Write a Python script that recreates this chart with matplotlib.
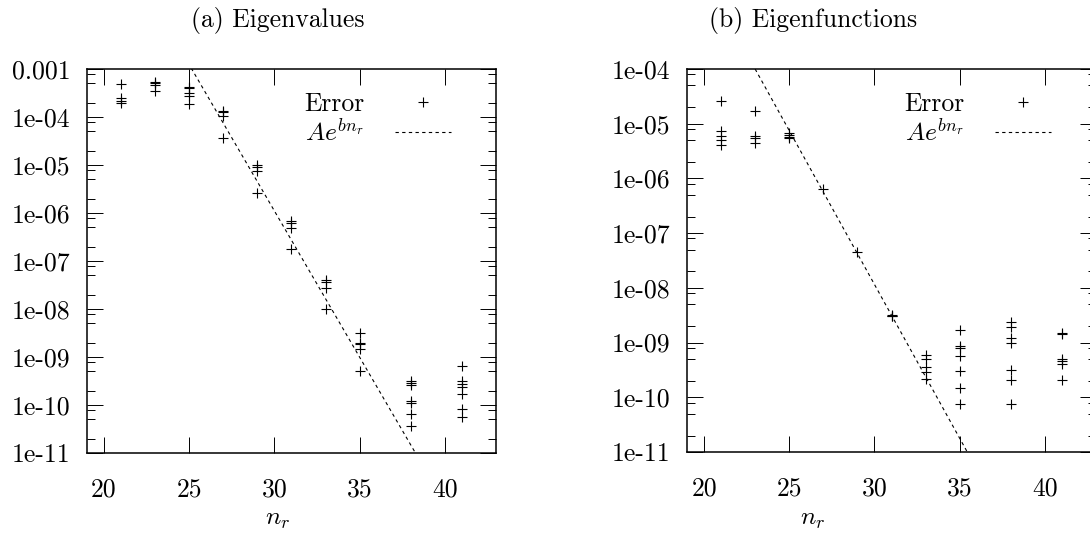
import numpy as np
import matplotlib
matplotlib.use('Agg')
import matplotlib.pyplot as plt
from matplotlib.lines import Line2D
from matplotlib.ticker import FixedLocator, NullFormatter

# ── Dados ────────────────────────────────────────────────────────────────────
# (a) erro dos autovalores por n_r
nr_val = [21, 21, 21, 21,
          23, 23, 23, 23,
          25, 25, 25, 25, 25,
          27, 27, 27, 27,
          29, 29, 29, 29,
          31, 31, 31, 31,
          33, 33, 33, 33,
          35, 35, 35, 35, 35,
          38, 38, 38, 38, 38, 38, 38,
          41, 41, 41, 41, 41, 41, 41]
err_val = [4.9e-4, 2.5e-4, 2.2e-4, 2.0e-4,
           5.4e-4, 5.0e-4, 4.6e-4, 3.5e-4,
           4.3e-4, 4.0e-4, 3.1e-4, 2.7e-4, 1.9e-4,
           1.35e-4, 1.25e-4, 1.05e-4, 3.7e-5,
           1.0e-5, 9.1e-6, 7.5e-6, 2.6e-6,
           6.8e-7, 6.2e-7, 4.9e-7, 1.75e-7,
           4.0e-8, 3.6e-8, 2.7e-8, 9.8e-9,
           3.2e-9, 2.0e-9, 1.9e-9, 1.45e-9, 5.1e-10,
           3.2e-10, 2.9e-10, 2.6e-10, 1.2e-10, 1.1e-10, 6.4e-11, 3.6e-11,
           6.5e-10, 3.2e-10, 2.8e-10, 2.4e-10, 1.7e-10, 8.1e-11, 5.5e-11]

# (b) erro das autofunções por n_r
nr_fun = [21, 21, 21, 21, 21,
          23, 23, 23, 23,
          25, 25, 25, 25,
          27,
          29,
          31, 31, 31,
          33, 33, 33, 33, 33,
          35, 35, 35, 35, 35, 35, 35,
          38, 38, 38, 38, 38, 38, 38,
          41, 41, 41, 41, 41, 41]
err_fun = [2.6e-5, 7.4e-6, 6.0e-6, 5.0e-6, 4.0e-6,
           1.7e-5, 6.0e-6, 5.4e-6, 4.4e-6,
           6.8e-6, 6.2e-6, 5.7e-6, 5.4e-6,
           6.5e-7,
           4.6e-8,
           3.2e-9, 3.1e-9, 3.0e-9,
           5.9e-10, 5.1e-10, 3.6e-10, 2.9e-10, 2.2e-10,
           1.7e-9, 8.7e-10, 7.9e-10, 5.7e-10, 3.0e-10, 1.45e-10, 7.5e-11,
           2.4e-9, 1.9e-9, 1.2e-9, 9.7e-10, 3.2e-10, 2.1e-10, 7.5e-11,
           1.5e-9, 1.42e-9, 5.0e-10, 4.6e-10, 4.0e-10, 2.1e-10]

# ajuste exponencial A*exp(b*n_r)
fit_val = (2.1e12, -1.403)
fit_fun = (8.5e8, -1.2946)

xticks = [20, 25, 30, 35, 40]
ylab_val = ['1e-11', '1e-10', '1e-09', '1e-08', '1e-07', '1e-06', '1e-05', '1e-04', '0.001']
ylab_fun = ['1e-11', '1e-10', '1e-09', '1e-08', '1e-07', '1e-06', '1e-05', '1e-04']

# ── Estilo ───────────────────────────────────────────────────────────────────
plt.rcParams['font.family'] = ['cmr10', 'DejaVu Serif']
plt.rcParams['mathtext.fontset'] = 'cm'
plt.rcParams['axes.formatter.use_mathtext'] = True
plt.rcParams['font.size'] = 18.5
plt.rcParams['axes.linewidth'] = 1.1

fig = plt.figure(figsize=(10.9, 5.45), dpi=100)
ax_a = fig.add_axes([0.0798, 0.1688, 0.3752, 0.7046])
ax_b = fig.add_axes([0.6303, 0.1706, 0.3752, 0.7028])


def painel(ax, nr, err, fit, ylabels, titulo, cx):
    ax.plot(nr, err, ls='none', marker='+', ms=7, mew=0.8, color='black')
    A, b = fit
    xs = np.array([19.0, 43.0])
    ax.plot(xs, A * np.exp(b * xs), ls=(0, (3, 3)), lw=0.8, color='black')

    ax.set_yscale('log')
    lo, hi = 1e-11, float(10 ** (len(ylabels) - 12))
    ax.set_ylim(lo, hi)
    ax.set_xlim(19, 43)

    decadas = [10.0 ** k for k in range(-11, -11 + len(ylabels))]
    ax.yaxis.set_major_locator(FixedLocator(decadas))
    ax.set_yticklabels(ylabels)
    menores = [m * d for d in decadas for m in (2, 5, 8) if m * d < hi]
    ax.yaxis.set_minor_locator(FixedLocator(menores))
    ax.yaxis.set_minor_formatter(NullFormatter())
    ax.set_xticks(xticks)
    ax.set_xticklabels([str(t) for t in xticks])

    ax.tick_params(which='both', direction='in', top=True, right=True, width=0.7)
    ax.tick_params(which='major', length=11.5)
    ax.tick_params(which='minor', length=5.8)
    ax.tick_params(axis='y', pad=12)
    ax.tick_params(axis='x', pad=17.5)

    handles = [Line2D([], [], ls='none', marker='+', ms=7, mew=0.8, color='black'),
               Line2D([], [], ls=(0, (3, 3)), lw=0.8, color='black')]
    ax.legend(handles, ['Error', r'$Ae^{bn_r}$'], loc='upper right', frameon=False,
              markerfirst=False, handlelength=2.2, handletextpad=1.2,
              labelspacing=0.05, borderaxespad=0.3, bbox_to_anchor=(0.935, 0.985))

    fig.text(cx, 0.962, titulo, ha='center', va='center')
    fig.text(cx, 0.048, r'$n_r$', ha='center', va='center')


painel(ax_a, nr_val, err_val, fit_val, ylab_val, '(a) Eigenvalues', 0.255)
painel(ax_b, nr_fun, err_fun, fit_fun, ylab_fun, '(b) Eigenfunctions', 0.746)

fig.savefig('out.png', dpi=100)
